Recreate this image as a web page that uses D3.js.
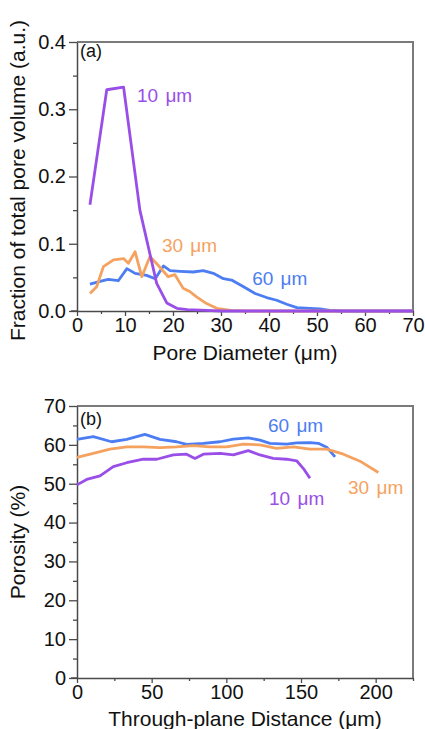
<!DOCTYPE html>
<html>
<head>
<meta charset="utf-8">
<script src="https://cdn.jsdelivr.net/npm/d3@7/dist/d3.min.js"></script>
<style>
  html, body { margin: 0; padding: 0; background: #fff; }
  svg { display: block; font-family: 'Liberation Sans', Arial, sans-serif; }
</style>
</head>
<body>
<div class="vis"></div>
<script>
'use strict';

// ---- panel (a): pore size distribution ----
var poreTicksX = [0, 10, 20, 30, 40, 50, 60, 70];
var poreTicksY = [0, 0.1, 0.2, 0.3, 0.4];

var pore60x = [2.7, 4.8, 6.5, 8.6, 10.4, 12.1, 14.5, 16.3, 18.0, 19.4, 21.5, 24.2, 26.3, 28.4, 30.5, 32.2, 34.7, 37.1, 39.5, 41.6, 43.7, 45.8, 48.5, 50.6, 52.7, 55, 60, 70];
var pore60y = [0.040, 0.044, 0.047, 0.045, 0.063, 0.056, 0.053, 0.048, 0.067, 0.060, 0.059, 0.058, 0.060, 0.056, 0.048, 0.046, 0.036, 0.026, 0.020, 0.016, 0.010, 0.005, 0.004, 0.003, 0.001, 0, 0, 0];

var pore30x = [2.7, 4.1, 5.5, 7.6, 9.7, 10.7, 12.1, 13.5, 15.2, 16.9, 19.0, 20.4, 22.1, 23.5, 24.9, 27, 29.1, 32, 35, 40, 50, 60, 70];
var pore30y = [0.026, 0.036, 0.066, 0.076, 0.078, 0.071, 0.088, 0.051, 0.081, 0.068, 0.051, 0.054, 0.034, 0.029, 0.021, 0.011, 0.004, 0.001, 0, 0, 0, 0, 0];

var pore10x = [2.7, 6.2, 9.7, 13.1, 16.6, 18.7, 20.8, 23, 27, 30, 40, 50, 60, 70];
var pore10y = [0.158, 0.329, 0.333, 0.150, 0.041, 0.012, 0.004, 0.002, 0.001, 0, 0, 0, 0, 0];

// ---- panel (b): porosity profile ----
var distTicksX = [0, 50, 100, 150, 200];
var porosityTicksY = [0, 10, 20, 30, 40, 50, 60, 70];

var prof60x = [0, 10.9, 23.2, 33.3, 45.5, 55.6, 66.7, 73.4, 84.6, 95.8, 104.7, 114.7, 122.5, 129.2, 140.4, 147.1, 156, 161.6, 167.2, 172.8];
var prof60y = [61.4, 62.1, 60.8, 61.4, 62.7, 61.4, 60.8, 60.1, 60.4, 60.8, 61.5, 61.8, 61.2, 60.4, 60.2, 60.5, 60.6, 60.4, 59.4, 56.9];

var prof30x = [0, 10.9, 22.1, 33.3, 44.4, 55.6, 66.7, 77.9, 89.1, 100.2, 111.4, 122.5, 133.7, 144.9, 156, 167.2, 178.4, 189.5, 201.8];
var prof30y = [56.8, 57.8, 58.9, 59.5, 59.5, 59.3, 59.5, 59.8, 59.5, 59.5, 60.2, 60.0, 59.1, 59.5, 58.9, 58.9, 57.6, 55.8, 52.9];

var prof10x = [0, 6.5, 15.4, 24.3, 33.3, 44.4, 53.4, 64.5, 73.4, 79, 84.6, 95.8, 104.7, 114.7, 122.5, 131.4, 140.4, 147.1, 151.6, 156];
var prof10y = [49.7, 51.1, 52.0, 54.4, 55.4, 56.3, 56.3, 57.4, 57.6, 56.5, 57.6, 57.8, 57.4, 58.5, 57.4, 56.5, 56.3, 55.9, 53.9, 51.4];

var seriesNames = ['60 \u03bcm', '30 \u03bcm', '10 \u03bcm'];
var seriesColors = ['#4c7df2', '#f5a261', '#9a4ee8'];

(function ( window, document, undefined ) {

  var width = 425;
  var height = 729;

  var svg = d3.select('.vis')
    .append('svg')
    .attr('width', width)
    .attr('height', height);

  /**
   * Zips two value arrays into point objects.
   */
  function zip( xs, ys ) {
    return xs.map(function(x, i) { return { x: x, y: ys[i] }; });
  }

  /**
   * Draws one framed panel with axes, minor ticks, curves and labels.
   */
  function panel( opt ) {
    var g = svg.append('g')
      .attr('transform', 'translate(' + opt.left + ',' + opt.top + ')');

    var x = d3.scaleLinear().domain( opt.xDomain ).range( [0, opt.w] );
    var y = d3.scaleLinear().domain( opt.yDomain ).range( [opt.h, 0] );

    // top and right frame lines (lighter)
    g.append('path')
      .attr('d', 'M0,0H' + opt.w + 'V' + opt.h)
      .attr('fill', 'none')
      .attr('stroke', '#7a7a7a')
      .attr('stroke-width', 2);

    // minor ticks
    g.append('g')
      .attr('transform', 'translate(0,' + opt.h + ')')
      .call( d3.axisBottom( x ).tickValues( opt.xMinor ).tickSize( 3 ).tickFormat('') )
      .call(function(a) { a.select('.domain').remove(); });
    g.append('g')
      .call( d3.axisLeft( y ).tickValues( opt.yMinor ).tickSize( 4 ).tickFormat('') )
      .call(function(a) { a.select('.domain').remove(); });

    var xAxis = g.append('g')
      .attr('transform', 'translate(0,' + opt.h + ')')
      .call( d3.axisBottom( x ).tickValues( opt.xTicks ).tickSize( 5 ).tickSizeOuter( 0 ).tickPadding( 2 ) );

    var yAxis = g.append('g')
      .call( d3.axisLeft( y ).tickValues( opt.yTicks ).tickSize( 8 ).tickSizeOuter( 0 ).tickPadding( 3 )
        .tickFormat( opt.yFormat ) );

    [xAxis, yAxis].forEach(function(a) {
      a.selectAll('path, line').attr('stroke', '#4a4a4a').attr('stroke-width', 1.5);
      a.selectAll('text').attr('fill', '#111').style('font-size', '20px');
    });
    g.selectAll('.tick line').attr('stroke', '#4a4a4a').attr('stroke-width', 1.3);

    // extend x axis a little past the y axis, like the original
    g.append('line')
      .attr('x1', -6).attr('x2', 0)
      .attr('y1', opt.h).attr('y2', opt.h)
      .attr('stroke', '#4a4a4a').attr('stroke-width', 1.5);

    var line = d3.line()
      .x(function(d) { return x( d.x ); })
      .y(function(d) { return y( d.y ); });

    opt.series.forEach(function(s, i) {
      g.append('path')
        .datum( s )
        .attr('d', line)
        .attr('fill', 'none')
        .attr('stroke', seriesColors[i])
        .attr('stroke-width', 2.8)
        .attr('stroke-linejoin', 'round');
    });

    opt.labels.forEach(function(l, i) {
      g.append('text')
        .attr('x', x( l[0] ))
        .attr('y', y( l[1] ))
        .attr('fill', seriesColors[i])
        .style('font-size', '19px')
        .style('word-spacing', '2px')
        .text( seriesNames[i] );
    });

    g.append('text')
      .attr('x', 3)
      .attr('y', opt.tagY)
      .attr('fill', '#111')
      .style('font-size', '18px')
      .text( opt.tag );

    // axis titles
    g.append('text')
      .attr('x', opt.w / 2)
      .attr('y', opt.h + opt.xTitleY)
      .attr('text-anchor', 'middle')
      .attr('fill', '#111')
      .style('font-size', '21px')
      .text( opt.xTitle );

    g.append('text')
      .attr('transform', 'translate(' + (-opt.left + 25) + ',' + (opt.h / 2 + opt.yTitleShift) + ') rotate(-90)')
      .attr('text-anchor', 'middle')
      .attr('fill', '#111')
      .style('font-size', '21px')
      .text( opt.yTitle );
  }

  panel({
    left: 77, top: 42, w: 336, h: 269,
    xDomain: [0, 70], yDomain: [0, 0.4],
    xTicks: poreTicksX, yTicks: poreTicksY,
    xMinor: d3.range(5, 70, 10), yMinor: d3.range(0.05, 0.4, 0.1),
    yFormat: d3.format('.1f'),
    series: [zip( pore60x, pore60y ), zip( pore30x, pore30y ), zip( pore10x, pore10y )],
    labels: [[36.5, 0.039], [17.7, 0.088], [12.5, 0.311]],
    tag: '(a)', tagY: 15,
    xTitle: 'Pore Diameter (\u03bcm)', xTitleY: 49,
    yTitle: 'Fraction of total pore volume (a.u.)', yTitleShift: 4
  });

  panel({
    left: 77, top: 406, w: 336, h: 272,
    xDomain: [0, 225], yDomain: [0, 70],
    xTicks: distTicksX, yTicks: porosityTicksY,
    xMinor: [25, 75, 125, 175, 225], yMinor: d3.range(5, 70, 10),
    yFormat: d3.format('d'),
    series: [zip( prof60x, prof60y ), zip( prof30x, prof30y ), zip( prof10x, prof10y )],
    labels: [[127.9, 63.3], [181.5, 47.4], [128.6, 44.5]],
    tag: '(b)', tagY: 19,
    xTitle: 'Through-plane Distance (\u03bcm)', xTitleY: 48,
    yTitle: 'Porosity (%)', yTitleShift: 0
  });

})( this, document );
</script>
</body>
</html>
